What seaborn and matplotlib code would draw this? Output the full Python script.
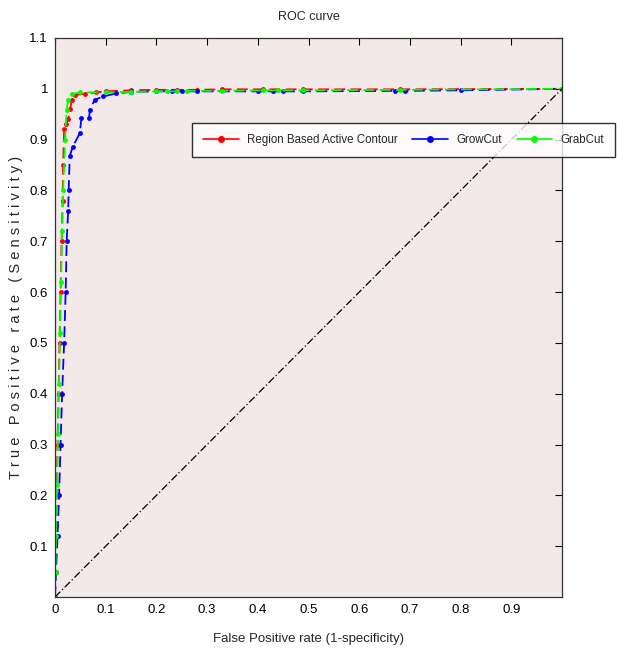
import matplotlib
matplotlib.use("Agg")
import matplotlib.pyplot as plt
from matplotlib.lines import Line2D
import seaborn as sns
import pandas as pd

sns.set_theme(style="white")
plt.rcParams['font.family'] = ['Liberation Sans', 'DejaVu Sans']

# Region Based Active Contour
fpr_r = [0, 0.001, 0.002, 0.003, 0.005, 0.007, 0.009, 0.011, 0.013, 0.015, 0.016, 0.018, 0.022, 0.026,
         0.03, 0.033, 0.04, 0.06, 0.08, 0.1, 0.15, 0.2, 0.24, 0.28, 0.33, 0.41, 0.49, 0.68, 1.0]
tpr_r = [0, 0.05, 0.14, 0.2, 0.3, 0.4, 0.5, 0.6, 0.7, 0.78, 0.85, 0.92, 0.93, 0.94,
         0.96, 0.978, 0.988, 0.99, 0.993, 0.995, 0.997, 0.998, 0.998, 0.998, 0.999, 0.999, 0.999, 0.999, 1.0]
# GrowCut
fpr_b = [0, 0.002, 0.005, 0.008, 0.011, 0.014, 0.018, 0.021, 0.023, 0.026, 0.027, 0.029, 0.035, 0.049,
         0.052, 0.067, 0.069, 0.078, 0.095, 0.121, 0.15, 0.2, 0.23, 0.25, 0.28, 0.4, 0.43, 0.45, 0.49,
         0.67, 0.69, 0.8, 1.0]
tpr_b = [0, 0.05, 0.12, 0.2, 0.3, 0.4, 0.5, 0.6, 0.7, 0.76, 0.8, 0.867, 0.886, 0.913,
         0.942, 0.942, 0.959, 0.978, 0.985, 0.991, 0.994, 0.995, 0.995, 0.995, 0.995, 0.995, 0.995, 0.995, 0.995,
         0.996, 0.996, 0.997, 1.0]
# GrabCut
fpr_g = [0, 0.001, 0.002, 0.004, 0.006, 0.008, 0.01, 0.012, 0.014, 0.016, 0.02, 0.023, 0.026, 0.033,
         0.05, 0.1, 0.15, 0.2, 0.22, 0.24, 0.26, 0.33, 0.41, 0.44, 0.49, 0.68, 1.0]
tpr_g = [0, 0.05, 0.12, 0.22, 0.32, 0.42, 0.52, 0.62, 0.72, 0.8, 0.9, 0.959, 0.978, 0.99,
         0.993, 0.993, 0.994, 0.995, 0.995, 0.995, 0.996, 0.996, 0.997, 0.997, 0.997, 0.998, 1.0]

names = ["Region Based Active Contour", "GrowCut", "GrabCut"]
colors = ["#ff0000", "#0000ff", "#00ff00"]
diag = [0, 1]

xticks = [0, 0.1, 0.2, 0.3, 0.4, 0.5, 0.6, 0.7, 0.8, 0.9]
yticks = [0.1, 0.2, 0.3, 0.4, 0.5, 0.6, 0.7, 0.8, 0.9, 1.0, 1.1]

fig = plt.figure(figsize=(6.17, 6.52), dpi=100)
fig.patch.set_facecolor("white")
ax = fig.add_axes([55/617, 1-597/652, (562-55)/617, (597-38)/652])
ax.set_facecolor("#f3e9e8")

series = [(fpr_r, tpr_r), (fpr_b, tpr_b), (fpr_g, tpr_g)]
for (fx, ty), name, c in zip(series, names, colors):
    df = pd.DataFrame({"fpr": fx, "tpr": ty})
    sns.lineplot(data=df, x="fpr", y="tpr", ax=ax, sort=False, estimator=None,
                 color=c, linewidth=1.3, linestyle=(0, (6, 3)), marker=".", markersize=7,
                 markeredgewidth=0, label=None)

sns.lineplot(x=diag, y=diag, ax=ax, color="black", linewidth=0.9, linestyle=(0, (6, 2, 1, 2)),
             estimator=None)

ax.set_xlim(0, 1)
ax.set_ylim(0, 1.1)
ax.set_xticks(xticks)
ax.set_xticklabels(["0" if v == 0 else f"{v:g}" for v in xticks])
ax.set_yticks(yticks)
ax.set_yticklabels([f"{v:g}" for v in yticks])
ax.tick_params(direction="in", top=True, right=True, length=5, width=0.8, colors="black",
               labelsize=9.5, pad=5)
for s in ax.spines.values():
    s.set_color("#333333")
    s.set_linewidth(0.9)

ax.set_xlabel("False Positive rate (1-specificity)", fontsize=9.5, labelpad=12)
ax.set_ylabel("T r u e   P o s i t i v e   r a t e   ( S e n s i t i v i t y )",
              fontsize=10.5, labelpad=10)
ax.yaxis.set_label_coords(-0.063, 0.5)
ax.set_title("ROC curve", fontsize=9, pad=13)

handles = [Line2D([0], [0], color=c, linewidth=1.2, marker=".", markersize=8) for c in colors]
leg = fig.legend(handles, names, ncol=3, loc="upper left",
                 bbox_to_anchor=(192/617, 1-157/652, 423/617, 34/652), mode="expand",
                 frameon=True, fontsize=8.3,
                 handlelength=3.1, handletextpad=0.7, columnspacing=1.0,
                 borderpad=0.95, borderaxespad=0, fancybox=False)
leg.get_frame().set_edgecolor("black")
leg.get_frame().set_linewidth(1.0)
if ax.get_legend() is not None:
    ax.get_legend().remove()

fig.savefig("out.png", dpi=100, facecolor="white")
